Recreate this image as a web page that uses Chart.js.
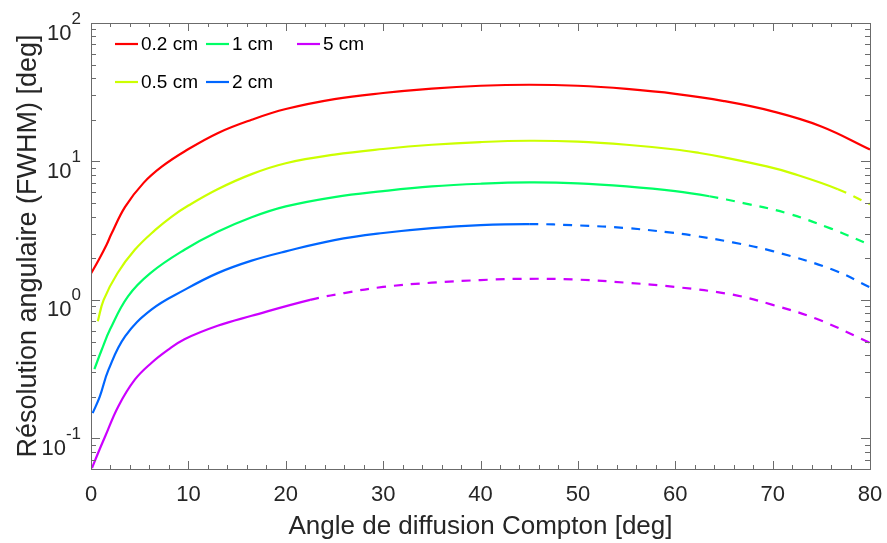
<!DOCTYPE html>
<html>
<head>
<meta charset="utf-8">
<script src="https://cdn.jsdelivr.net/npm/chart.js@4.4.0/dist/chart.umd.min.js"></script>
<style>
    html, body { margin: 0; padding: 0; background: #fff; }
</style>
</head>
<body>
<canvas id="resolutionChart" width="887" height="543"></canvas>
<script>
// Series values (angle in deg, resolution in deg)
const angle02 = [0, 0.8, 1.6, 2.1, 3.5, 5.4, 7.3, 9.6, 13, 16.5, 20, 25, 30, 35, 40, 45, 50, 55, 60, 65, 70, 75, 80];
const res02 = [1.55, 1.95, 2.5, 3.0, 4.7, 7.0, 9.2, 11.8, 16, 20, 23.9, 28.2, 31.2, 33.6, 35.2, 35.8, 35.2, 33.4, 30.8, 27.3, 23, 17.9, 12.2];

const angle05 = [0.7, 1.3, 2.7, 4.5, 6.6, 8.3, 10, 13, 16.5, 20, 25, 30, 35, 40, 45, 50, 55, 60, 62.5, 65, 69.4, 72, 76.7, 80];
const res05 = [0.70, 1.0, 1.55, 2.3, 3.2, 4.0, 4.8, 6.3, 8.1, 9.7, 11.2, 12.3, 13.2, 13.8, 14.1, 13.9, 13.2, 12.2, 11.5, 10.7, 9.2, 8.2, 6.3, 4.9];

const angle1 = [0.35, 1.1, 1.95, 3.8, 6.1, 9.6, 13, 16.5, 20, 25, 30, 35, 40, 45, 50, 55, 60, 63.5, 67, 71.4, 76, 80];
const res1 = [0.316, 0.436, 0.61, 1.06, 1.56, 2.3, 3.1, 3.95, 4.73, 5.53, 6.1, 6.6, 6.9, 7.05, 6.95, 6.6, 6.1, 5.6, 5.0, 4.24, 3.27, 2.5];

const angle2 = [0.17, 0.9, 1.8, 3.5, 6.2, 9.6, 13, 16.5, 20, 25, 30, 35, 40, 45, 50, 55, 59.4, 62, 65.9, 70, 76.2, 80];
const res2 = [0.152, 0.2, 0.313, 0.545, 0.85, 1.18, 1.56, 1.92, 2.24, 2.7, 3.04, 3.3, 3.47, 3.53, 3.45, 3.3, 3.07, 2.9, 2.6, 2.25, 1.65, 1.23];

const angle5 = [0.1, 0.75, 1.45, 2.8, 4.5, 6.2, 7.9, 9.6, 13, 16.5, 22.5, 26, 30, 35, 40, 45, 50, 55, 60, 65.9, 70, 74.5, 80];
const res5 = [0.061, 0.079, 0.103, 0.17, 0.265, 0.35, 0.435, 0.52, 0.65, 0.767, 1.0, 1.12, 1.24, 1.33, 1.39, 1.42, 1.40, 1.33, 1.24, 1.09, 0.92, 0.73, 0.49];

// angle where each curve switches from solid to dashed
const dashFrom = [Infinity, 76.7, 63.5, 45, 22.5];

const seriesLabels = ['0.2 cm', '0.5 cm', '1 cm', '2 cm', '5 cm'];
const seriesColors = ['#ff0000', '#ccff00', '#00ff66', '#0066ff', '#cc00ff'];

// Axis ticks
const xTickValues = [];
for (let v = 0; v <= 80; v += 2) xTickValues.push(v);
const yMajorTicks = [0.1, 1, 10, 100];
const yMajorExponents = ['-1', '0', '1', '2'];
const yTickValues = [0.06, 0.07, 0.08, 0.09];
[0.1, 1, 10].forEach(d => {
    for (let m = 1; m <= 9; m++) yTickValues.push(+(m * d).toPrecision(3));
});
yTickValues.push(100);

const TEXT = '#262626';
const AXIS = '#6b6b6b';
const FONT = "'Liberation Sans', Arial, sans-serif";

function toPoints(xs, ys) {
    return xs.map((x, i) => ({ x: x, y: ys[i] }));
}

const curves = [
    toPoints(angle02, res02),
    toPoints(angle05, res05),
    toPoints(angle1, res1),
    toPoints(angle2, res2),
    toPoints(angle5, res5)
];

// Box, inward ticks, y labels with exponents, legend
const axesBox = {
    id: 'axesBox',
    afterDatasetsDraw(chart) {
        const { ctx, chartArea: a, scales } = chart;
        const xs = scales.x, ys = scales.y;
        ctx.save();
        ctx.strokeStyle = AXIS;
        ctx.lineWidth = 1;
        ctx.strokeRect(a.left + 0.5, a.top + 0.5, a.right - a.left, a.bottom - a.top);

        ctx.beginPath();
        xTickValues.forEach(v => {
            const px = Math.round(xs.getPixelForValue(v)) + 0.5;
            const len = v % 10 === 0 ? 8 : 4;
            ctx.moveTo(px, a.bottom); ctx.lineTo(px, a.bottom - len);
            ctx.moveTo(px, a.top); ctx.lineTo(px, a.top + len);
        });
        yTickValues.forEach(v => {
            const py = Math.round(ys.getPixelForValue(v)) + 0.5;
            const len = yMajorTicks.includes(v) ? 9 : 5;
            ctx.moveTo(a.left, py); ctx.lineTo(a.left + len, py);
            ctx.moveTo(a.right, py); ctx.lineTo(a.right - len, py);
        });
        ctx.stroke();

        // y tick labels 10^n
        ctx.fillStyle = TEXT;
        ctx.textBaseline = 'alphabetic';
        yMajorTicks.forEach((v, i) => {
            const py = ys.getPixelForValue(v);
            ctx.font = '17px ' + FONT;
            const expW = ctx.measureText(yMajorExponents[i]).width;
            const right = 81;
            ctx.textAlign = 'left';
            ctx.fillText(yMajorExponents[i], right - expW, py + 0.5);
            ctx.font = '22px ' + FONT;
            ctx.textAlign = 'right';
            ctx.fillText('10', right - expW, py + 16.5);
        });

        // legend: 2 rows, filled column by column
        const colX = [115, 206, 297];
        const rowY = [44, 82];
        ctx.font = '19px ' + FONT;
        ctx.textAlign = 'left';
        ctx.textBaseline = 'middle';
        chart.data.datasets.forEach((ds, i) => {
            const x0 = colX[Math.floor(i / 2)];
            const y0 = rowY[i % 2];
            ctx.strokeStyle = ds.borderColor;
            ctx.lineWidth = 2.2;
            ctx.beginPath();
            ctx.moveTo(x0, y0); ctx.lineTo(x0 + 23, y0);
            ctx.stroke();
            ctx.fillStyle = '#000';
            ctx.fillText(ds.label, x0 + 26, y0 + 1);
        });
        ctx.restore();
    }
};

const ctx = document.getElementById('resolutionChart').getContext('2d');
new Chart(ctx, {
    type: 'line',
    data: {
        datasets: curves.map((pts, i) => ({
            label: seriesLabels[i],
            data: pts,
            borderColor: seriesColors[i],
            backgroundColor: seriesColors[i],
            borderWidth: 2.2,
            pointRadius: 0,
            tension: 0.4,
            fill: false,
            segment: {
                borderDash: c => c.p0.parsed.x >= dashFrom[i] - 1e-6 ? [9, 8] : undefined
            }
        }))
    },
    options: {
        responsive: false,
        animation: false,
        events: [],
        layout: { padding: { left: 0, top: 23, right: 17, bottom: 0 } },
        plugins: {
            legend: { display: false },
            tooltip: { enabled: false }
        },
        scales: {
            x: {
                type: 'linear',
                min: 0,
                max: 80,
                afterBuildTicks: s => { s.ticks = xTickValues.map(v => ({ value: v })); },
                afterFit: s => { s.height = 74; s.paddingLeft = 0; s.paddingRight = 0; },
                grid: { display: false, drawTicks: false },
                border: { display: false },
                ticks: {
                    autoSkip: false,
                    maxRotation: 0,
                    padding: 13,
                    color: TEXT,
                    font: { family: FONT, size: 22 },
                    callback: v => (v % 10 === 0 ? String(v) : '')
                },
                title: {
                    display: true,
                    text: 'Angle de diffusion Compton [deg]',
                    color: TEXT,
                    font: { family: FONT, size: 26, lineHeight: 1.2 },
                    padding: { top: 0, bottom: 1 }
                }
            },
            y: {
                type: 'logarithmic',
                min: 0.06,
                max: 100,
                afterBuildTicks: s => { s.ticks = yTickValues.map(v => ({ value: v })); },
                afterFit: s => { s.width = 91; s.paddingTop = 0; s.paddingBottom = 0; },
                grid: { display: false, drawTicks: false },
                border: { display: false },
                ticks: { display: false },
                title: {
                    display: true,
                    text: 'Résolution angulaire (FWHM) [deg]',
                    color: TEXT,
                    font: { family: FONT, size: 27, lineHeight: 1.2 },
                    padding: { top: 12, bottom: 0 }
                }
            }
        }
    },
    plugins: [axesBox]
});
</script>
</body>
</html>
